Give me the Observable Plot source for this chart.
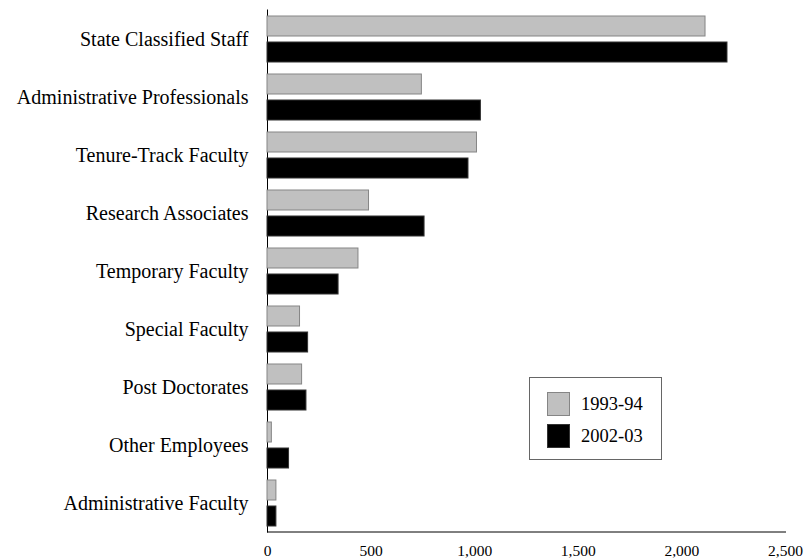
<!DOCTYPE html>
<html>
<head>
<meta charset="utf-8">
<script src="https://cdn.jsdelivr.net/npm/d3@7"></script>
<script src="https://cdn.jsdelivr.net/npm/@observablehq/plot@0.6"></script>
<style>
  body { margin: 0; background: #fff; }
  #wrap { position: relative; width: 806px; height: 560px; font-family: "Liberation Serif", "Times New Roman", serif; }
  #wrap svg { display: block; }
  #wrap svg [aria-label="y-axis tick label"] text { font-size: 20px; }
  #wrap svg [aria-label="x-axis tick label"] text { font-size: 15.5px; }
  #legend { position: absolute; left: 529px; top: 377px; width: 131px; height: 81px; border: 1.5px solid #666; background: #fff; }
  #legend .row { position: absolute; left: 17px; height: 24px; display: flex; align-items: center; }
  #legend .sw { width: 21px; height: 22px; margin-right: 11px; box-sizing: content-box; }
  #legend .lbl { font-size: 18.5px; color: #000; line-height: 24px; }
</style>
</head>
<body>
<div id="wrap"></div>
<script>
const categories = [
  "State Classified Staff",
  "Administrative Professionals",
  "Tenure-Track Faculty",
  "Research Associates",
  "Temporary Faculty",
  "Special Faculty",
  "Post Doctorates",
  "Other Employees",
  "Administrative Faculty"
];
const seriesNames = ["1993-94", "2002-03"];
const values1993 = [2114, 745, 1011, 490, 439, 157, 167, 21, 43];
const values2002 = [2220, 1030, 970, 758, 343, 196, 188, 104, 43];
const xTicks = [0, 500, 1000, 1500, 2000, 2500];
const seriesColors = ["#c0c0c0", "#000000"];
const seriesStrokes = ["#858585", "#333333"];

const rows1993 = categories.map((c, i) => ({category: c, series: seriesNames[0], value: values1993[i]}));
const rows2002 = categories.map((c, i) => ({category: c, series: seriesNames[1], value: values2002[i]}));

const chart = Plot.plot({
  width: 806,
  height: 560,
  marginLeft: 267,
  marginRight: 21,
  marginTop: 9.5,
  marginBottom: 28.5,
  style: {fontFamily: '"Liberation Serif", "Times New Roman", serif', fontSize: "15.5px", color: "#000", background: "#fff"},
  x: {domain: [0, 2500], ticks: xTicks, tickFormat: d3.format(","), tickSize: 0, tickPadding: 12.5, line: true, label: null},
  y: {domain: categories, padding: 0, tickSize: 0, tickPadding: 19, line: true, label: null},
  marks: [
    Plot.barX(rows1993, {x: "value", y: "category", fill: seriesColors[0], stroke: seriesStrokes[0], strokeWidth: 1, insetTop: 6, insetBottom: 32}),
    Plot.barX(rows2002, {x: "value", y: "category", fill: seriesColors[1], stroke: seriesStrokes[1], strokeWidth: 1, insetTop: 32, insetBottom: 6})
  ]
});
const wrap = document.getElementById("wrap");
wrap.appendChild(chart);

// legend
const legend = document.createElement("div");
legend.id = "legend";
seriesNames.forEach((name, i) => {
  const row = document.createElement("div");
  row.className = "row";
  row.style.top = (14 + i * 32) + "px";
  const sw = document.createElement("div");
  sw.className = "sw";
  sw.style.background = seriesColors[i];
  sw.style.border = "1px solid " + seriesStrokes[i];
  const lbl = document.createElement("span");
  lbl.className = "lbl";
  lbl.textContent = name;
  row.appendChild(sw);
  row.appendChild(lbl);
  legend.appendChild(row);
});
wrap.appendChild(legend);
</script>
</body>
</html>
